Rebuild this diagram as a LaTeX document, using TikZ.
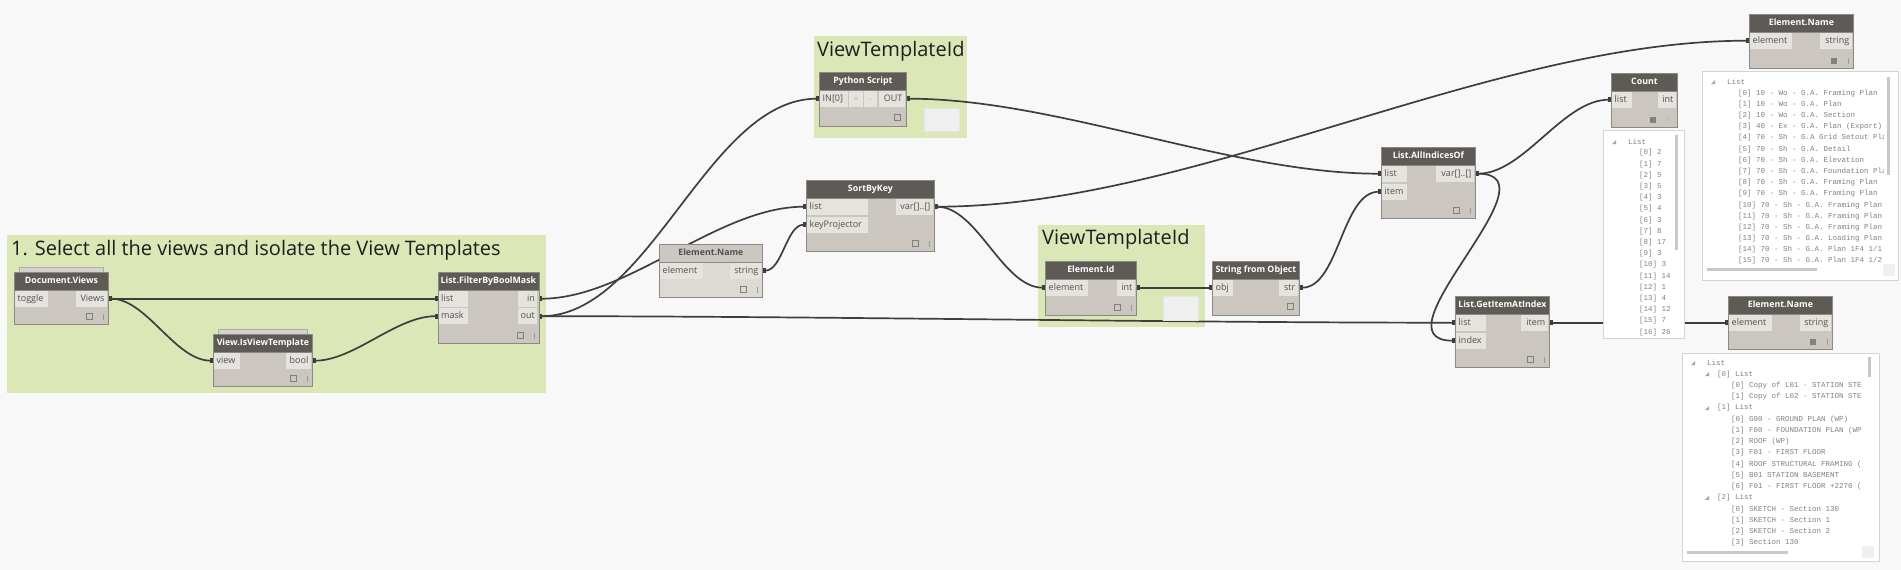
\documentclass[tikz,border=0pt]{standalone}
\usepackage{fontspec}
\setmainfont{Open Sans}
\newfontfamily\wmono{Liberation Mono}
\usetikzlibrary{arrows.meta}
\definecolor{bgc}{RGB}{248,248,248}
\definecolor{grpc}{RGB}{220,231,184}
\definecolor{headc}{RGB}{94,91,87}
\definecolor{bodyc}{RGB}{203,199,192}
\definecolor{portc}{RGB}{229,227,222}
\definecolor{edgec}{RGB}{140,137,132}
\definecolor{ptext}{RGB}{80,80,80}
\definecolor{wirec}{RGB}{62,62,62}
\definecolor{fheadc}{RGB}{204,200,193}
\definecolor{fbodyc}{RGB}{221,218,212}
\definecolor{fportc}{RGB}{234,232,228}
\definecolor{iconc}{RGB}{130,128,124}
\definecolor{wtextc}{RGB}{130,130,130}
\definecolor{wedgec}{RGB}{212,212,212}
\definecolor{sbarc}{RGB}{200,200,200}
\definecolor{bubc}{RGB}{239,239,239}
\definecolor{titlec}{RGB}{30,30,30}
\pgfdeclarelayer{groups}
\pgfdeclarelayer{wires}
\pgfsetlayers{groups,wires,main}
\tikzset{
  nbody/.style={draw=edgec, line width=0.8pt, fill=bodyc, anchor=north west, inner sep=0pt},
  nhead/.style={draw=edgec, line width=0.8pt, fill=headc, text=white, anchor=north west, inner sep=0pt, minimum height=18pt, text height=6.5pt, text depth=2pt, font=\fontsize{8.8}{10}\selectfont\bfseries},
  fbody/.style={nbody, fill=fbodyc},
  fhead/.style={nhead, fill=fheadc, text=ptext},
  pin/.style={fill=portc, anchor=north west, inner xsep=2.5pt, inner ysep=0pt, minimum height=16pt, text height=7pt, text depth=2pt, text=ptext, font=\fontsize{9}{10}\selectfont},
  pout/.style={pin, anchor=north east},
  pmid/.style={pin, text=iconc!70, font=\fontsize{7}{8}\selectfont},
  wire/.style={draw=wirec, line width=1.7pt, {Rectangle[length=3pt,width=5pt]}-{Rectangle[length=3pt,width=5pt]}, out=0, in=180, looseness=0.8},
  stackbox/.style={draw=edgec!70, fill=bodyc!80!white, line width=0.6pt},
  gtitle/.style={anchor=base west, inner sep=0pt, text=titlec, font=\fontsize{20}{24}\selectfont},
  wbox/.style={draw=wedgec, fill=white, line width=0.8pt, anchor=north west, inner sep=0pt},
  wtext/.style={anchor=west, inner sep=0pt, text=wtextc, font=\wmono\fontsize{7.5}{9}\selectfont},
  bubble/.style={draw=black!10, fill=bubc, anchor=north west, inner sep=0pt, line width=0.6pt},
  ftext/.style={inner sep=0pt, text=iconc!60, font=\fontsize{7}{8}\selectfont},
}
\newcommand\dnode[6]{%
  \node[nbody, minimum width=#4pt, minimum height=#5pt] (#1) at (#2,#3) {};
  \node[nhead, minimum width=#4pt] (#1h) at (#2,#3) {#6};}
\newcommand\dfnode[6]{%
  \node[fbody, minimum width=#4pt, minimum height=#5pt] (#1) at (#2,#3) {};
  \node[fhead, minimum width=#4pt] (#1h) at (#2,#3) {#6};}
\newcommand\pinL[5]{\node[pin] (#1) at (#2,#3) {\makebox[#4pt][l]{#5}};}
\newcommand\pinR[5]{\node[pout] (#1) at (#2,#3) {\makebox[#4pt][r]{#5}};}
\newcommand\footA[1]{%
  \draw[iconc, line width=0.7pt] ([xshift=-22pt,yshift=5pt]#1.south east) rectangle ++(6,-6);
  \draw[iconc!80, line width=0.9pt] ([xshift=-5pt,yshift=5pt]#1.south east) -- ++(0,-6);}
\newcommand\footB[1]{%
  \draw[iconc, line width=0.7pt] ([xshift=-12pt,yshift=6pt]#1.south east) rectangle ++(6,-6);}
\newcommand\footC[1]{%
  \fill[iconc] ([xshift=-23pt,yshift=5pt]#1.south east) rectangle ++(6,-6);
  \draw[iconc!80, line width=0.9pt] ([xshift=-5pt,yshift=5pt]#1.south east) -- ++(0,-6);}
\newcommand\wtri[2]{\fill[iconc!70] (#1,#2+2) -- (#1+4,#2+2) -- (#1+4,#2-2) -- cycle;}
\begin{document}
\begin{tikzpicture}[x=1pt,y=-1pt]
\useasboundingbox (0,0) rectangle (1901,570);
\begin{pgfonlayer}{groups}
  \fill[bgc] (0,0) rectangle (1901,570);
  \fill[grpc] (7,235) rectangle (546,393);
  \fill[grpc] (814,36) rectangle (967,138);
  \fill[grpc] (1038,225) rectangle (1205,327);
\end{pgfonlayer}
% group titles
\node[gtitle] (g1t) at (11,255) {1. Select all the views and isolate the View Templates};
\node[gtitle] (g2t) at (817,56) {ViewTemplateId};
\node[gtitle] (g3t) at (1042,244) {ViewTemplateId};

% Document.Views
\draw[stackbox] (19,267) rectangle (103,272);
\dnode{dv}{14}{272}{94}{52}{Document.Views}
\pinL{dvT}{15}{290.5}{27.5}{toggle}
\pinR{dvV}{107}{290.5}{26}{Views}
\footA{dv}

% View.IsViewTemplate
\draw[stackbox] (218,329) rectangle (307,334);
\dnode{vt}{213}{334}{99}{52}{View.IsViewTemplate}
\pinL{vtV}{214}{352.5}{21}{view}
\pinR{vtB}{311}{352.5}{20}{bool}
\footA{vt}

% List.FilterByBoolMask
\dnode{fb}{437.5}{272}{101}{71}{List.FilterByBoolMask}
\pinL{fbL}{438.5}{290.5}{24}{list}
\pinL{fbM}{438.5}{308}{24}{mask}
\pinR{fbI}{537.5}{290.5}{14}{in}
\pinR{fbO}{537.5}{308}{14}{out}
\footA{fb}

% Element.Name (function, no input)
\dfnode{en}{659}{244}{103}{53}{Element.Name}
\pinL{enE}{660}{262.5}{38}{element}
\pinR{enS}{761}{262.5}{26}{string}
\footA{en}

% SortByKey
\dnode{sk}{806}{180}{128}{71}{SortByKey}
\pinL{skL}{807}{198.5}{56}{list}
\pinL{skK}{807}{216.5}{56}{keyProjector}
\pinR{skV}{933}{198.5}{32}{var[]..[]}
\footA{sk}

% Python Script
\dnode{ps}{819}{72}{87}{54}{Python Script}
\pinL{psI}{820}{90.5}{23}{IN[0]}
\node[pmid] (psP) at (849,90.5) {\makebox[9pt][c]{+}};
\node[pmid] (psM) at (864,90.5) {\makebox[8pt][c]{-}};
\pinR{psO}{905}{90.5}{21}{OUT}
\footB{ps}
\node[bubble, minimum width=35pt, minimum height=23pt] (psBub) at (924,108) {};

% Element.Id
\dnode{ei}{1045}{261}{91}{54}{Element.Id}
\pinL{eiE}{1046}{279.5}{37}{element}
\pinR{eiI}{1135}{279.5}{13}{int}
\footA{ei}
\node[bubble, minimum width=35pt, minimum height=24pt] (eiBub) at (1163,296) {};

% String from Object
\dnode{so}{1212}{261}{87}{54}{String from Object}
\pinL{soO}{1213}{279.5}{15}{obj}
\pinR{soS}{1298}{279.5}{14}{str}
\footB{so}

% List.AllIndicesOf
\dnode{ai}{1381}{147}{94}{71}{List.AllIndicesOf}
\pinL{aiL}{1382}{165.5}{20}{list}
\pinL{aiI}{1382}{183.5}{20}{item}
\pinR{aiV}{1474}{165.5}{33}{var[]..[]}
\footA{ai}

% Count
\dnode{ct}{1611}{73}{66}{54}{Count}
\pinL{ctL}{1612}{91.5}{15}{list}
\pinR{ctI}{1676}{91.5}{13}{int}
\fill[iconc] ([xshift=-28pt,yshift=5pt]ct.south east) rectangle ++(6,-6);
\node[ftext] (ctLace) at ([xshift=-10pt,yshift=8pt]ct.south east) {II\textbackslash};

% Element.Name (top)
\dnode{et}{1749}{14}{104}{54}{Element.Name}
\pinL{etE}{1750}{32.5}{37}{element}
\pinR{etS}{1852}{32.5}{27}{string}
\footC{et}

% List.GetItemAtIndex
\dnode{gi}{1455}{296}{94}{71}{List.GetItemAtIndex}
\pinL{giL}{1456}{314.5}{25}{list}
\pinL{giI}{1456}{332.5}{25}{index}
\pinR{giT}{1548}{314.5}{22}{item}
\footA{gi}

% Element.Name (lower)
\dnode{el}{1728}{296}{104}{53}{Element.Name}
\pinL{elE}{1729}{314.5}{38}{element}
\pinR{elS}{1831}{314.5}{26}{string}
\footC{el}

% wires
\begin{pgfonlayer}{wires}
  \draw[wire] (dvV.east -| dv.east) to (fbL.west -| fb.west);
  \draw[wire] (dvV.east -| dv.east) to (vtV.west -| vt.west);
  \draw[wire] (vtB.east -| vt.east) to (fbM.west -| fb.west);
  \draw[wire] (fbI.east -| fb.east) to (skL.west -| sk.west);
  \draw[wire] (fbO.east -| fb.east) to (psI.west -| ps.west);
  \draw[wire] (fbO.east -| fb.east) to (giL.west -| gi.west);
  \draw[wire] (enS.east -| en.east) to (skK.west -| sk.west);
  \draw[wire] (skV.east -| sk.east) to (etE.west -| et.west);
  \draw[wire] (skV.east -| sk.east) to (eiE.west -| ei.west);
  \draw[wire] (psO.east -| ps.east) to (aiL.west -| ai.west);
  \draw[wire] (eiI.east -| ei.east) to (soO.west -| so.west);
  \draw[wire] (soS.east -| so.east) to (aiI.west -| ai.west);
  \draw[wire] (aiV.east -| ai.east) to (ctL.west -| ct.west);
  \draw[wire, looseness=1.3] (aiV.east -| ai.east) to (giI.west -| gi.west);
  \draw[wire] (giT.east -| gi.east) to (elE.west -| el.west);
\end{pgfonlayer}

% watch: Count
\node[wbox, minimum width=81pt, minimum height=208pt] (cw) at (1603,130) {};
\begin{scope}
  \clip (1604,131) rectangle (1683,337);
  \wtri{1612}{142}
  \node[wtext] (cwList) at (1628,142) {List};
  \foreach \t [count=\i from 0] in {2,7,5,5,3,4,3,8,17,3,3,14,1,4,12,7,26}
    \node[wtext] (cw\i) at (1639,{153+11.2*\i}) {[\i] \t};
  \fill[sbarc] (1675,135) rectangle (1678,250);
\end{scope}

% watch: Element.Name (top)
\node[wbox, minimum width=196pt, minimum height=209pt] (tw) at (1702,71) {};
\begin{scope}
  \clip (1703,72) rectangle (1883,264);
  \wtri{1711}{82}
  \node[wtext] (twList) at (1727,82) {List};
  \foreach \t [count=\i from 0] in {
    {10 - Wo - G.A. Framing Plan},{10 - Wo - G.A. Plan},{10 - Wo - G.A. Section},
    {40 - Ex - G.A. Plan (Export)},{70 - Sh - G.A Grid Setout Plan},{70 - Sh - G.A. Detail},
    {70 - Sh - G.A. Elevation},{70 - Sh - G.A. Foundation Plan},{70 - Sh - G.A. Framing Plan},
    {70 - Sh - G.A. Framing Plan},{70 - Sh - G.A. Framing Plan},{70 - Sh - G.A. Framing Plan},
    {70 - Sh - G.A. Framing Plan},{70 - Sh - G.A. Loading Plan},{70 - Sh - G.A. Plan 1F4 1/1},
    {70 - Sh - G.A. Plan 1F4 1/2}}
    \node[wtext] (tw\i) at (1738,{93.3+11.18*\i}) {[\i] \t};
\end{scope}
\fill[sbarc] (1887,77) rectangle (1890,175);
\fill[sbarc] (1707,268) rectangle (1817,271);
\fill[black!6] (1883,264) rectangle (1895,276);

% watch: Element.Name (lower)
\node[wbox, minimum width=197pt, minimum height=208pt] (lw) at (1682,353) {};
\begin{scope}
  \clip (1683,354) rectangle (1863,548);
  \wtri{1691}{363}
  \node[wtext] (lwList) at (1707,363) {List};
  \foreach \xx/\t [count=\k] in {
    1717/{[0] List},
    1731/{[0] Copy of L01 - STATION STE},
    1731/{[1] Copy of L02 - STATION STE},
    1717/{[1] List},
    1731/{[0] G00 - GROUND PLAN (WP)},
    1731/{[1] F00 - FOUNDATION PLAN (WP},
    1731/{[2] ROOF (WP)},
    1731/{[3] F01 - FIRST FLOOR},
    1731/{[4] ROOF STRUCTURAL FRAMING (},
    1731/{[5] B01 STATION BASEMENT},
    1731/{[6] F01 - FIRST FLOOR +2270 (},
    1717/{[2] List},
    1731/{[0] SKETCH - Section 130},
    1731/{[1] SKETCH - Section 1},
    1731/{[2] SKETCH - Section 2},
    1731/{[3] Section 130}}
    \node[wtext] (lw\k) at (\xx,{363+11.24*\k}) {\t};
  \wtri{1705}{374.2}
  \wtri{1705}{408}
  \wtri{1705}{497.9}
\end{scope}
\fill[sbarc] (1868,357) rectangle (1871,377);
\fill[sbarc] (1687,551) rectangle (1788,554);
\fill[black!6] (1862,546) rectangle (1874,558);
\end{tikzpicture}
\end{document}
